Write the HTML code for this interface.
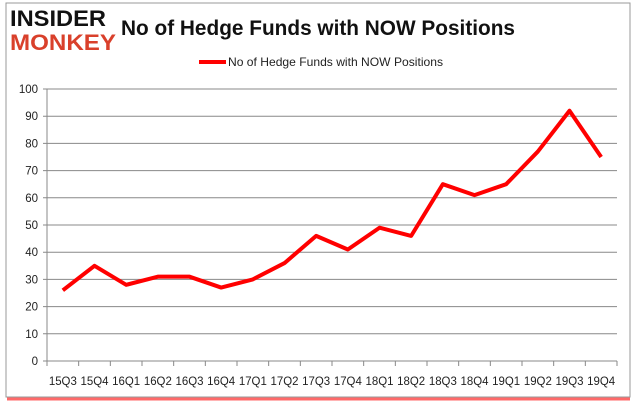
<!DOCTYPE html>
<html><head><meta charset="utf-8"><style>
body{margin:0;background:#fff;width:636px;height:405px;overflow:hidden;font-family:"Liberation Sans",sans-serif}
</style></head><body>
<svg width="636" height="405">
<rect x="6" y="3" width="624" height="394" fill="#fff" stroke="#999" stroke-width="1"/>
<line x1="7" y1="399" x2="630" y2="399" stroke="#f44" stroke-width="3" opacity="0.8"/>
<text x="10" y="26" font-size="22" font-weight="bold" fill="#111" textLength="96" lengthAdjust="spacingAndGlyphs">INSIDER</text>
<text x="10" y="50" font-size="22" font-weight="bold" fill="#d9402b" textLength="106" lengthAdjust="spacingAndGlyphs">MONKEY</text>
<text x="121" y="35" font-size="21" font-weight="bold" fill="#111" textLength="394" lengthAdjust="spacingAndGlyphs">No of Hedge Funds with NOW Positions</text>
<line x1="199" y1="62" x2="226" y2="62" stroke="red" stroke-width="4"/>
<text x="228" y="66" font-size="12" fill="#222" textLength="215" lengthAdjust="spacingAndGlyphs">No of Hedge Funds with NOW Positions</text>
<g id="grid"></g><g id="axes"></g>
<polyline id="line" fill="none" stroke="red" stroke-width="4" stroke-linejoin="round"/>
</svg>
<script>
const categories=["15Q3","15Q4","16Q1","16Q2","16Q3","16Q4","17Q1","17Q2","17Q3","17Q4","18Q1","18Q2","18Q3","18Q4","19Q1","19Q2","19Q3","19Q4"];
const values=[26,35,28,31,31,27,30,36,46,41,49,46,65,61,65,77,92,75];
const yTicks=[0,10,20,30,40,50,60,70,80,90,100];
const NS="http://www.w3.org/2000/svg";
const L=47,R=617,T=89,B=361,yMax=100;
const bw=(R-L)/categories.length;
const xs=i=>L+bw*(i+0.5);
const ys=v=>B-(v/yMax)*(B-T);
const grid=document.getElementById('grid'),axes=document.getElementById('axes');
function mk(t,a,p){const e=document.createElementNS(NS,t);for(const k in a)e.setAttribute(k,a[k]);p.appendChild(e);return e;}
yTicks.forEach(v=>{
 const g=mk('line',{x1:L-4,x2:R,y1:ys(v),y2:ys(v),stroke:'#888','stroke-width':1},grid);
 
 
 const t=mk('text',{x:L-9,y:ys(v)+4,'text-anchor':'end','font-size':11.5,fill:'#222'},axes);
 t.textContent=v;
 
 
});
const ax=mk('line',{x1:L,x2:L,y1:T,y2:B,stroke:'#888'},axes);


for(let i=0;i<=categories.length;i++){
 const tk=mk('line',{x1:L+bw*i,x2:L+bw*i,y1:B,y2:B+5,stroke:'#888'},axes);
 
 
}
categories.forEach((c,i)=>{
 const t=mk('text',{x:xs(i),y:385,'text-anchor':'middle','font-size':11.5,fill:'#222',textLength:28,lengthAdjust:'spacingAndGlyphs'},axes);
 t.textContent=c;
 
 
});
document.getElementById('line').setAttribute('points',values.map((v,i)=>xs(i)+','+ys(v)).join(' '));
</script>
</body></html>
